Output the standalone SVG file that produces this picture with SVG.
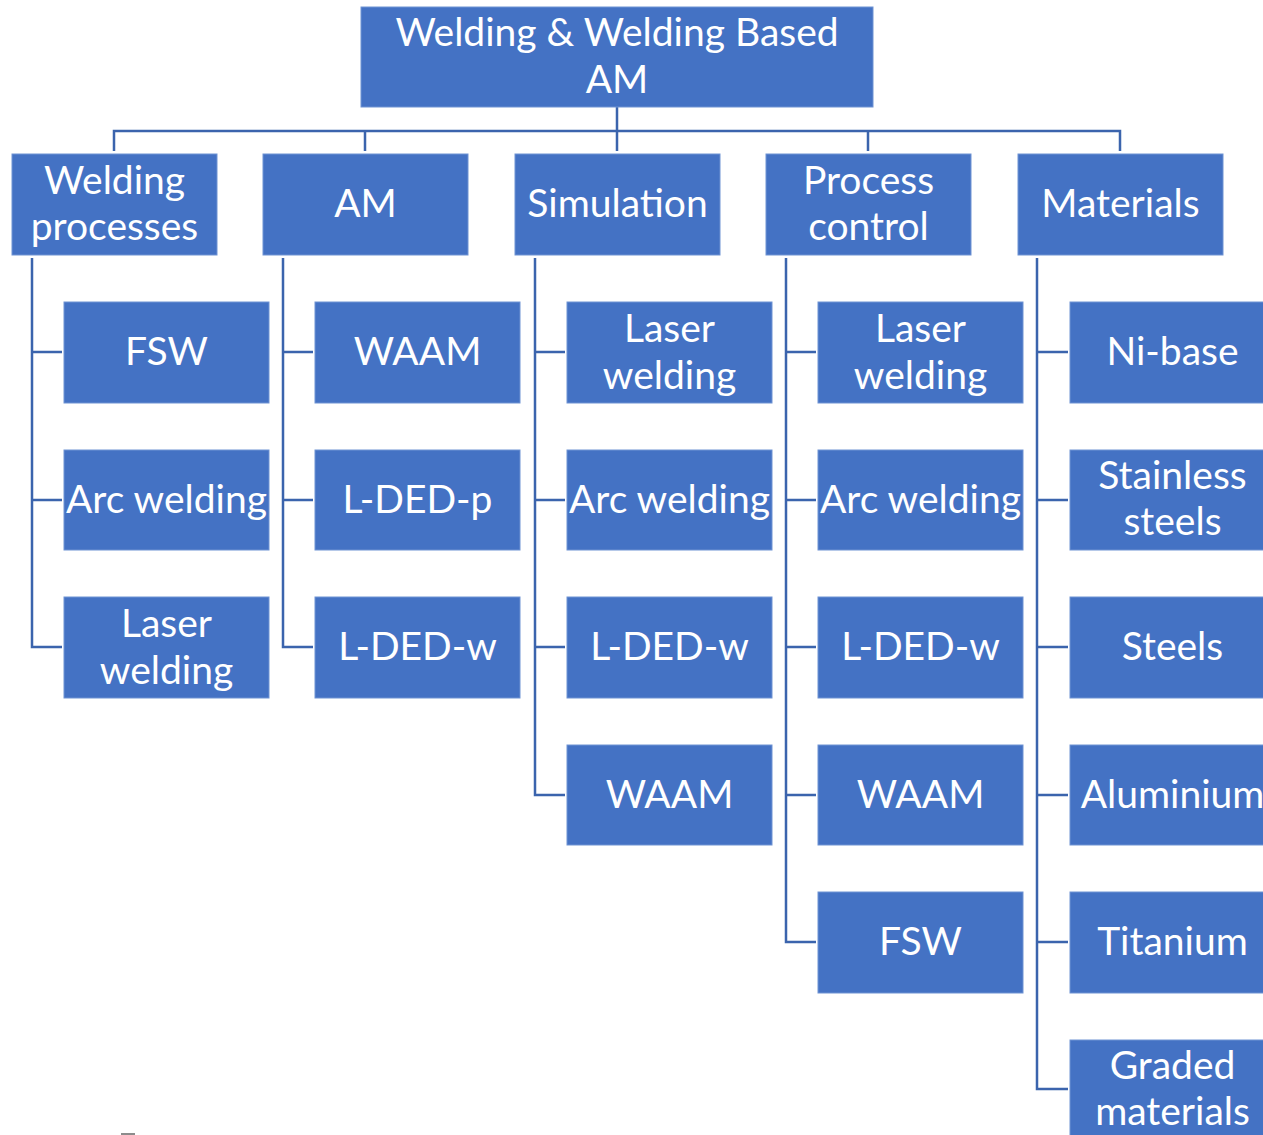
<svg xmlns="http://www.w3.org/2000/svg" width="1263" height="1135" viewBox="0 0 1263 1135">
<style>
.box{fill:#4472C4;stroke:#6F93D3;stroke-width:1}
.t{fill:#FFFFFF;font-family:Lato,"Open Sans",sans-serif;font-size:39px;text-anchor:middle;dominant-baseline:central}
.ln{fill:none;stroke:#3B64AD;stroke-width:2.5}
</style>
<rect width="1263" height="1135" fill="#FFFFFF"/>
<g id="connectors" class="ln">
<path d="M617 107V131M114 151V131H1120V151M365 131V151M617 131V151M868 131V151"/>
<path d="M32 258V647H62M32 352H62M32 500H62"/>
<path d="M283 258V647H313M283 352H313M283 500H313"/>
<path d="M535 258V795H565M535 352H565M535 500H565M535 647H565"/>
<path d="M786 258V942H816M786 352H816M786 500H816M786 647H816M786 795H816"/>
<path d="M1037 258V1089H1068M1037 352H1068M1037 500H1068M1037 647H1068M1037 795H1068M1037 942H1068"/>
</g>
<g id="root"><rect class="box" x="361" y="7" width="512" height="100"/><text class="t" x="617" y="31">Welding &amp; Welding Based</text><text class="t" x="617" y="78">AM</text></g>
<g id="welding-processes"><rect class="box" x="12" y="154" width="205" height="101"/><text class="t" x="114.5" y="179">Welding</text><text class="t" x="114.5" y="225">processes</text></g>
<g id="am"><rect class="box" x="263" y="154" width="205" height="101"/><text class="t" x="365.5" y="202">AM</text></g>
<g id="simulation"><rect class="box" x="515" y="154" width="205" height="101"/><text class="t" x="617.5" y="202">Simulation</text></g>
<g id="process-control"><rect class="box" x="766" y="154" width="205" height="101"/><text class="t" x="868.5" y="179">Process</text><text class="t" x="868.5" y="225">control</text></g>
<g id="materials"><rect class="box" x="1018" y="154" width="205" height="101"/><text class="t" x="1120.5" y="202">Materials</text></g>

<g id="wp-fsw"><rect class="box" x="64" y="302" width="205" height="101"/><text class="t" x="166.5" y="350">FSW</text></g>
<g id="wp-arc"><rect class="box" x="64" y="450" width="205" height="100"/><text class="t" x="166.5" y="498">Arc welding</text></g>
<g id="wp-laser"><rect class="box" x="64" y="597" width="205" height="101"/><text class="t" x="166.5" y="622">Laser</text><text class="t" x="166.5" y="669">welding</text></g>

<g id="am-waam"><rect class="box" x="315" y="302" width="205" height="101"/><text class="t" x="417.5" y="350">WAAM</text></g>
<g id="am-ldedp"><rect class="box" x="315" y="450" width="205" height="100"/><text class="t" x="417.5" y="498">L-DED-p</text></g>
<g id="am-ldedw"><rect class="box" x="315" y="597" width="205" height="101"/><text class="t" x="417.5" y="645">L-DED-w</text></g>

<g id="sim-laser"><rect class="box" x="567" y="302" width="205" height="101"/><text class="t" x="669.5" y="327">Laser</text><text class="t" x="669.5" y="374">welding</text></g>
<g id="sim-arc"><rect class="box" x="567" y="450" width="205" height="100"/><text class="t" x="669.5" y="498">Arc welding</text></g>
<g id="sim-ldedw"><rect class="box" x="567" y="597" width="205" height="101"/><text class="t" x="669.5" y="645">L-DED-w</text></g>
<g id="sim-waam"><rect class="box" x="567" y="745" width="205" height="100"/><text class="t" x="669.5" y="793">WAAM</text></g>

<g id="pc-laser"><rect class="box" x="818" y="302" width="205" height="101"/><text class="t" x="920.5" y="327">Laser</text><text class="t" x="920.5" y="374">welding</text></g>
<g id="pc-arc"><rect class="box" x="818" y="450" width="205" height="100"/><text class="t" x="920.5" y="498">Arc welding</text></g>
<g id="pc-ldedw"><rect class="box" x="818" y="597" width="205" height="101"/><text class="t" x="920.5" y="645">L-DED-w</text></g>
<g id="pc-waam"><rect class="box" x="818" y="745" width="205" height="100"/><text class="t" x="920.5" y="793">WAAM</text></g>
<g id="pc-fsw"><rect class="box" x="818" y="892" width="205" height="101"/><text class="t" x="920.5" y="940">FSW</text></g>

<g id="m-ni"><rect class="box" x="1070" y="302" width="205" height="101"/><text class="t" x="1172.5" y="350">Ni-base</text></g>
<g id="m-stainless"><rect class="box" x="1070" y="450" width="205" height="100"/><text class="t" x="1172.5" y="474">Stainless</text><text class="t" x="1172.5" y="520">steels</text></g>
<g id="m-steels"><rect class="box" x="1070" y="597" width="205" height="101"/><text class="t" x="1172.5" y="645">Steels</text></g>
<g id="m-al"><rect class="box" x="1070" y="745" width="205" height="100"/><text class="t" x="1172.5" y="793">Aluminium</text></g>
<g id="m-ti"><rect class="box" x="1070" y="892" width="205" height="101"/><text class="t" x="1172.5" y="940">Titanium</text></g>
<g id="m-graded"><rect class="box" x="1070" y="1040" width="205" height="101"/><text class="t" x="1172.5" y="1064">Graded</text><text class="t" x="1172.5" y="1110">materials</text></g>
<rect x="121" y="1133" width="14" height="2" fill="#8C8C8C"/>
</svg>
